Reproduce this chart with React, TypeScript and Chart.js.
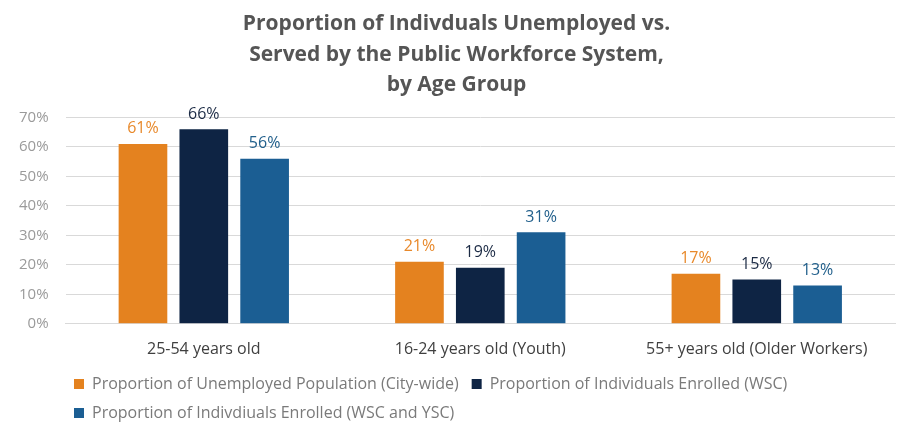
import React, { useEffect, useRef } from "react";
import { Chart, registerables } from "chart.js";

Chart.register(...registerables);

const categories = ["25-54 years old", "16-24 years old (Youth)", "55+ years old (Older Workers)"];
const unemployedCityWide = [61, 21, 17];
const enrolledWSC = [66, 19, 15];
const enrolledWSCYSC = [56, 31, 13];
const seriesNames = [
  "Proportion of Unemployed Population (City-wide)",
  "Proportion of Individuals Enrolled (WSC)",
  "Proportion of Indivdiuals Enrolled (WSC and YSC)",
];
const titleLines = [
  "Proportion of Indivduals Unemployed vs.",
  "Served by the Public Workforce System,",
  "by Age Group",
];

const barColors = ["#E4821F", "#0E2444", "#1B5E93"];
const labelColors = ["#E8892B", "#1C2B45", "#22608C"];

const valueLabels = {
  id: "valueLabels",
  afterDatasetsDraw(chart: any) {
    const ctx = chart.ctx;
    ctx.save();
    ctx.font = "16px 'Open Sans', sans-serif";
    ctx.textAlign = "center";
    ctx.textBaseline = "bottom";
    chart.data.datasets.forEach((ds: any, i: number) => {
      const meta = chart.getDatasetMeta(i);
      meta.data.forEach((bar: any, j: number) => {
        ctx.fillStyle = labelColors[i];
        ctx.fillText(ds.data[j] + "%", bar.x, bar.y - 7);
      });
    });
    ctx.restore();
  },
};

const blockShift = {
  id: "blockShift",
  beforeDraw(chart: any) {
    if (chart.legend) {
      const w = chart.legend.width;
      chart.legend.left = 61;
      chart.legend.right = 61 + w;
    }
    if (chart.titleBlock) {
      chart.titleBlock.left += 8;
      chart.titleBlock.right += 8;
    }
  },
};

export default function App() {
  const ref = useRef<HTMLCanvasElement>(null);
  useEffect(() => {
    const chart = new Chart(ref.current!, {
      type: "bar",
      data: {
        labels: categories,
        datasets: [unemployedCityWide, enrolledWSC, enrolledWSCYSC].map((d, i) => ({
          label: seriesNames[i],
          data: d,
          backgroundColor: barColors[i],
          barPercentage: 0.8,
          categoryPercentage: 0.66,
        })),
      },
      options: {
        animation: false,
        responsive: true,
        maintainAspectRatio: false,
        layout: { padding: { left: 2, right: 16, top: 0, bottom: 2 } },
        plugins: {
          title: {
            display: true,
            text: titleLines,
            color: "#555555",
            font: { family: "'Open Sans', sans-serif", size: 21, weight: "bold", lineHeight: 1.45 },
            padding: { top: 9, bottom: 17 },
          },
          legend: {
            position: "bottom",
            align: "start",
            labels: {
              boxWidth: 10,
              boxHeight: 10,
              padding: 13,
              color: "#7a7a7a",
              font: { family: "'Open Sans', sans-serif", size: 16 },
            },
          },
          tooltip: { enabled: false },
        },
        scales: {
          x: {
            grid: { display: false },
            border: { color: "#d9d9d9" },
            ticks: { color: "#404040", font: { family: "'Open Sans', sans-serif", size: 16 }, padding: 8 },
            afterFit: (scale: any) => {
              scale.height -= 4;
            },
          },
          y: {
            min: 0,
            max: 70,
            ticks: {
              stepSize: 10,
              color: "#9a9a9a",
              padding: 17,
              font: { family: "'Open Sans', sans-serif", size: 15 },
              callback: (v: any) => v + "%",
            },
            grid: { color: "#d9d9d9", drawTicks: false },
            border: { display: false },
          },
        },
      },
      plugins: [valueLabels, blockShift],
    });
    return () => chart.destroy();
  }, []);
  return (
    <div style={{ position: "fixed", left: 0, top: 0, width: 911, height: 433, background: "#fff" }}>
      <canvas ref={ref} />
    </div>
  );
}
